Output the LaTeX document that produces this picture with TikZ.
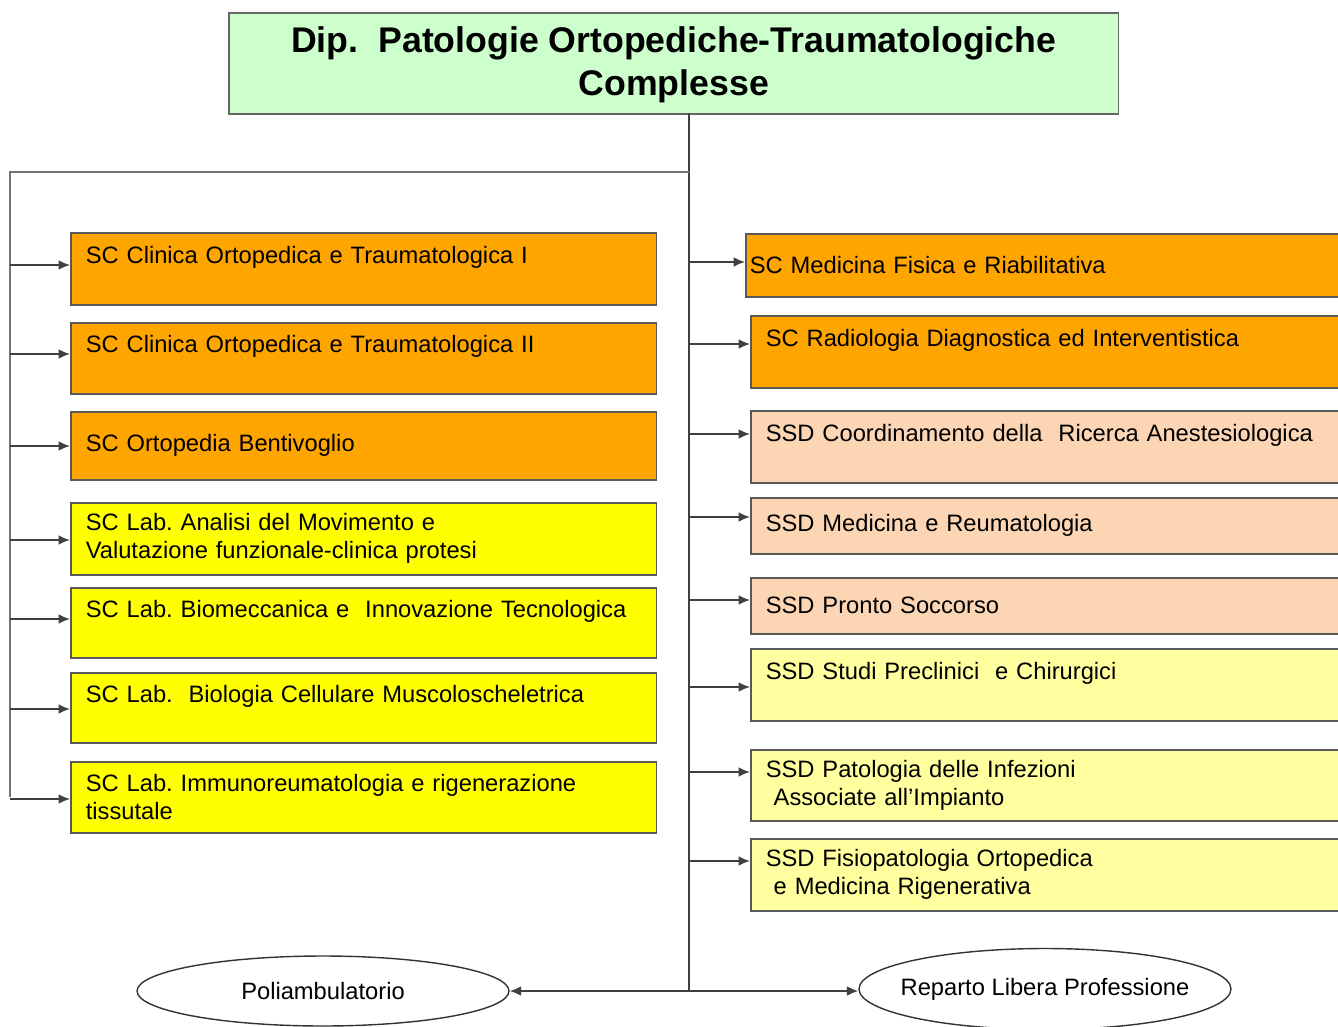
\documentclass[tikz,border=0pt]{standalone}
\usepackage{fontspec}
\setmainfont{Liberation Sans}
\frenchspacing
\usetikzlibrary{shapes.geometric,arrows.meta}
\definecolor{titlegreen}{RGB}{204,255,204}
\definecolor{scorange}{RGB}{255,165,0}
\definecolor{scyellow}{RGB}{255,255,0}
\definecolor{ssdpeach}{RGB}{252,213,180}
\definecolor{ssdpale}{RGB}{255,255,160}
\tikzset{every node/.append style={font=\fontsize{13.5}{16}\selectfont}}

\begin{document}
\begin{tikzpicture}[x=0.02cm, y=-0.02cm]
\clip (0,0) rectangle (1338,1027);

  \tikzstyle{unit}=[draw=black!65, line width=0.9pt, anchor=north west, align=left, inner xsep=0.3cm, inner ysep=0pt, text width=11.12cm]
  \tikzstyle{runit}=[unit, text width=11.4cm]
  \tikzstyle{site}=[draw=black!80, line width=0.8pt, ellipse, minimum width=7.44cm, inner sep=0pt]
  \tikzstyle{link}=[draw=black!75, line width=0.9pt]
  \tikzstyle{arr}=[link, -{Latex[length=6.5pt,width=5.5pt]}]

  \node[draw=black!60, line width=0.9pt, fill=titlegreen, anchor=north west, minimum width=17.8cm, minimum height=2.02cm, align=center, text depth=0.1cm, font=\fontsize{20.3}{24.5}\selectfont\bfseries] (dip) at (228,12) {Dip.~~Patologie Ortopediche-Traumatologiche\\Complesse};

  \node[unit, fill=scorange, minimum height=1.44cm] (l1) at (70,232) {SC Clinica Ortopedica e Traumatologica I\\\mbox{}};
  \node[unit, fill=scorange, minimum height=1.42cm] (l2) at (70,322) {SC Clinica Ortopedica e Traumatologica II\\\mbox{}};
  \node[unit, fill=scorange, minimum height=1.36cm] (l3) at (70,411) {SC Ortopedia Bentivoglio};
  \node[unit, fill=scyellow, minimum height=1.44cm] (l4) at (70,502) {SC Lab. Analisi del Movimento e\\Valutazione funzionale-clinica protesi};
  \node[unit, fill=scyellow, minimum height=1.40cm] (l5) at (70,587) {SC Lab. Biomeccanica e~~Innovazione Tecnologica\\\mbox{}};
  \node[unit, fill=scyellow, minimum height=1.40cm] (l6) at (70,672) {SC Lab.~~Biologia Cellulare Muscoloscheletrica\\\mbox{}};
  \node[unit, fill=scyellow, minimum height=1.42cm] (l7) at (70,761) {SC Lab. Immunoreumatologia e rigenerazione\\tissutale};

  \node[runit, fill=scorange, minimum height=1.26cm, inner xsep=0.08cm, text width=11.84cm] (r1) at (745,233) {SC Medicina Fisica e Riabilitativa};
  \node[runit, fill=scorange, minimum height=1.44cm] (r2) at (750,315) {SC Radiologia Diagnostica ed Interventistica\\\mbox{}};
  \node[runit, fill=ssdpeach, minimum height=1.44cm] (r3) at (750,410) {SSD Coordinamento della~~Ricerca Anestesiologica\\\mbox{}};
  \node[runit, fill=ssdpeach, minimum height=1.12cm] (r4) at (750,497) {SSD Medicina e Reumatologia};
  \node[runit, fill=ssdpeach, minimum height=1.12cm] (r5) at (750,577) {SSD Pronto Soccorso};
  \node[runit, fill=ssdpale, minimum height=1.44cm] (r6) at (750,648) {SSD Studi Preclinici~~e Chirurgici\\\mbox{}};
  \node[runit, fill=ssdpale, minimum height=1.42cm] (r7) at (750,749) {SSD Patologia delle Infezioni\\\ Associate all’Impianto};
  \node[runit, fill=ssdpale, minimum height=1.44cm] (r8) at (750,838) {SSD Fisiopatologia Ortopedica\\\ e Medicina Rigenerativa};

  \node[site, minimum height=1.4cm] (poli) at (323,991) {Poliambulatorio};
  \node[site, minimum height=1.62cm, inner xsep=-0.26cm] (lp) at (1045,989) {Reparto Libera Professione};

  \coordinate (spine) at (689,113);
  \coordinate (hub) at (689,991);
  \coordinate (branch) at (689,172);
  \coordinate (corner) at (10,172);
  \coordinate (foot) at (10,797);

  \draw[link] (spine) -- (hub);
  \draw[link, draw=black!55] (branch) -- (corner) -- (foot);

  \coordinate (a1) at (10,265);
  \coordinate (a2) at (10,354);
  \coordinate (a3) at (10,446);
  \coordinate (a4) at (10,540);
  \coordinate (a5) at (10,619);
  \coordinate (a6) at (10,709);
  \coordinate (a7) at (10,799);
  \draw[arr] (a1) -- (a1 -| l1.west);
  \draw[arr] (a2) -- (a2 -| l2.west);
  \draw[arr] (a3) -- (a3 -| l3.west);
  \draw[arr] (a4) -- (a4 -| l4.west);
  \draw[arr] (a5) -- (a5 -| l5.west);
  \draw[arr] (a6) -- (a6 -| l6.west);
  \draw[arr] (a7) -- (a7 -| l7.west);

  \coordinate (b1) at (689,262);
  \coordinate (b2) at (689,344);
  \coordinate (b3) at (689,434);
  \coordinate (b4) at (689,517);
  \coordinate (b5) at (689,600);
  \coordinate (b6) at (689,687);
  \coordinate (b7) at (689,772);
  \coordinate (b8) at (689,861);
  \draw[arr] (b1) -- (b1 -| r1.west);
  \draw[arr] (b2) -- (b2 -| r2.west);
  \draw[arr] (b3) -- (b3 -| r3.west);
  \draw[arr] (b4) -- (b4 -| r4.west);
  \draw[arr] (b5) -- (b5 -| r5.west);
  \draw[arr] (b6) -- (b6 -| r6.west);
  \draw[arr] (b7) -- (b7 -| r7.west);
  \draw[arr] (b8) -- (b8 -| r8.west);

  \draw[arr] (hub) -- (poli);
  \draw[arr] (hub) -- (hub -| lp.west);

\end{tikzpicture}
\end{document}
